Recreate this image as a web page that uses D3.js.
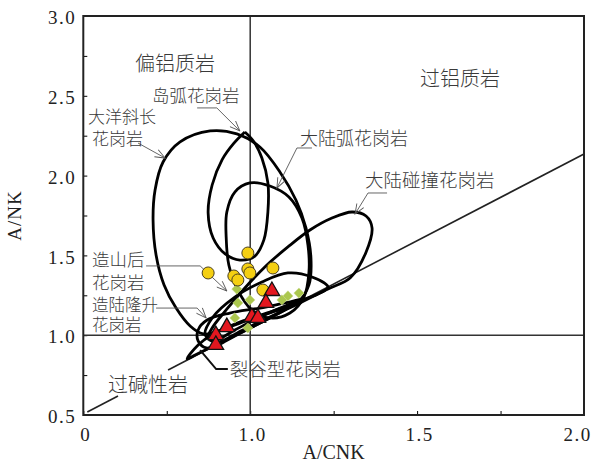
<!DOCTYPE html>
<html>
<head>
<meta charset="utf-8">
<script src="https://cdn.jsdelivr.net/npm/d3@7"></script>
<style>
  body { margin: 0; background: #fff; }
  svg { display: block; }
  .cjk { font-family: "Noto Sans CJK SC", sans-serif; font-weight: 300; fill: #3a3a3a; }
  .num { font-family: "Liberation Serif", "Times New Roman", serif; }
</style>
</head>
<body>
<script>
// size of picture
var svgWidth = 592
var svgHeight = 463

// axis domains and ticks
var xDomain = [0.5, 2.0]
var yDomain = [0.5, 3.0]
var xTickValues = [0.5, 1.0, 1.5, 2.0]
var xTickLabels = ["0", "1.0", "1.5", "2.0"]
var yTickValues = [0.5, 1.0, 1.5, 2.0, 2.5, 3.0]
var yTickLabels = ["0.5", "1.0", "1.5", "2.0", "2.5", "3.0"]
var minorStep = 0.25

// boundary line between metaluminous and peralkaline (broken by label)
var boundaryA = [[0.512, 0.519], [0.604, 0.619]]
var boundaryB = [[0.754, 0.782], [2.0, 2.135]]

// tectonic fields, [A/CNK, A/NK]
var fieldOP = [[0.880, 2.280], [0.960, 2.261], [1.029, 2.179], [1.089, 2.023], [1.137, 1.847], [1.167, 1.672],
    [1.182, 1.484], [1.176, 1.315], [1.143, 1.208], [1.059, 1.139], [0.969, 1.076], [0.895, 1.020],
    [0.859, 1.008], [0.820, 1.058], [0.778, 1.170], [0.742, 1.315], [0.718, 1.503], [0.709, 1.722],
    [0.715, 1.910], [0.739, 2.085], [0.790, 2.211]]
// island arc field starts and ends at its tip
var fieldIAG = [[0.984, 2.273], [0.950, 2.200], [0.916, 2.100], [0.886, 1.941], [0.874, 1.766], [0.889, 1.609],
    [0.925, 1.509], [0.969, 1.471], [1.014, 1.496], [1.041, 1.597], [1.053, 1.772], [1.053, 1.954],
    [1.035, 2.110], [1.010, 2.215], [0.984, 2.273]]
var fieldCAG = [[0.999, 1.954], [1.059, 1.935], [1.116, 1.866], [1.155, 1.734], [1.173, 1.565], [1.176, 1.396],
    [1.161, 1.239], [1.119, 1.139], [1.059, 1.108], [1.005, 1.158], [0.963, 1.283], [0.936, 1.440],
    [0.928, 1.615], [0.930, 1.772], [0.954, 1.897]]
var fieldCCG = [[1.365, 1.672], [1.347, 1.747], [1.305, 1.772], [1.245, 1.734], [1.179, 1.659], [1.113, 1.553],
    [1.047, 1.434], [0.984, 1.296], [0.928, 1.158], [0.886, 1.045], [0.874, 0.982], [0.901, 0.955],
    [0.975, 1.030], [1.065, 1.120], [1.149, 1.202], [1.233, 1.290], [1.300, 1.360], [1.347, 1.520]]
var fieldPOG = [[0.865, 1.001], [0.886, 1.108], [0.954, 1.239], [1.035, 1.333], [1.113, 1.390], [1.185, 1.365],
    [1.233, 1.302], [1.203, 1.258], [1.119, 1.195], [1.035, 1.120], [0.954, 1.033], [0.895, 0.970]]
var fieldCEUG = [[1.164, 1.227], [1.104, 1.202], [1.029, 1.170], [0.939, 1.139], [0.871, 1.095], [0.844, 1.033],
    [0.844, 0.964], [0.868, 0.920], [0.904, 0.939], [0.954, 0.995], [1.029, 1.076], [1.104, 1.158]]
var fieldRRG = [[0.811, 0.851], [0.844, 0.939], [0.889, 1.008], [0.969, 1.083], [1.059, 1.145], [1.119, 1.183],
    [1.059, 1.108], [0.969, 1.014], [0.889, 0.932], [0.835, 0.876]]

// samples
var circleA = [0.993, 0.874, 0.951, 0.963, 0.993, 0.999, 1.068, 1.038]
var circleB = [1.515, 1.390, 1.371, 1.346, 1.415, 1.390, 1.421, 1.283]
var diamondA = [0.960, 0.963, 0.999, 0.954, 0.993, 1.095, 1.113, 1.146]
var diamondB = [1.289, 1.202, 1.221, 1.108, 1.045, 1.221, 1.246, 1.264]
var triangleA = [1.065, 1.047, 1.005, 1.023, 0.930, 0.897, 0.897]
var triangleB = [1.277, 1.202, 1.114, 1.108, 1.051, 1.001, 0.939]

// labels: one entry per line; lines with the same group form one text
var labelText = ["偏铝质岩", "过铝质岩", "岛弧花岗岩", "大洋斜长", "花岗岩", "大陆弧花岗岩", "大陆碰撞花岗岩",
    "造山后", "花岗岩", "造陆隆升", "花岗岩", "裂谷型花岗岩", "过碱性岩"]
var labelGroup = [0, 1, 2, 3, 3, 4, 5, 6, 6, 7, 7, 8, 9]
var labelA = [0.655, 1.509, 0.706, 0.514, 0.526, 1.149, 1.344, 0.526, 0.526, 0.526, 0.526, 0.939, 0.574]
var labelB = [2.712, 2.618, 2.511, 2.380, 2.242, 2.242, 1.979, 1.484, 1.340, 1.195, 1.070, 0.794, 0.700]
var groupSize = [20, 20, 17.5, 17, 18, 18.5, 17.5, 16.5, 18.5, 20]

// pointer lines to fields
var pointers = [
    [[0.664, 2.204], [0.745, 2.110]],
    [[0.841, 2.424], [0.900, 2.424], [0.969, 2.280]],
    [[1.185, 2.173], [1.140, 2.173], [1.080, 1.922]],
    [[1.410, 1.891], [1.353, 1.891], [1.314, 1.759]],
    [[0.688, 1.434], [0.850, 1.434], [0.930, 1.277]],
    [[0.718, 1.170], [0.841, 1.170], [0.868, 1.108]]
]
var rrgPointer = [[0.933, 0.788], [0.898, 0.788], [0.850, 0.907]]

var x = d3.scaleLinear().domain(xDomain).range([83.3, 584])
var y = d3.scaleLinear().domain(yDomain).range([415, 16])

var svg = d3.select("body").append("svg")
    .attr("width", svgWidth)
    .attr("height", svgHeight)

svg.append("rect")
    .attr("width", svgWidth)
    .attr("height", svgHeight)
    .attr("fill", "white")

// arrow head
svg.append("defs").append("marker")
    .attr("id", "vhead")
    .attr("viewBox", "-11 -6 13 12")
    .attr("markerWidth", 13)
    .attr("markerHeight", 12)
    .attr("markerUnits", "userSpaceOnUse")
    .attr("orient", "auto")
    .append("path")
    .attr("d", "M-10,-4L0,0L-10,4")
    .attr("fill", "none")
    .attr("stroke", "#555")
    .attr("stroke-width", 0.9)

// axes with inward ticks
var minorX = d3.range(xDomain[0], xDomain[1] + 0.01, minorStep)
var minorY = d3.range(yDomain[0], yDomain[1] + 0.01, minorStep)

var xAxis = svg.append("g")
    .attr("class", "num")
    .attr("transform", "translate(0," + y(yDomain[0]) + ")")
    .call(d3.axisBottom(x)
        .tickValues(minorX)
        .tickSizeInner(-4)
        .tickSizeOuter(0)
        .tickPadding(13)
        .tickFormat(function(d) {
            var i = xTickValues.indexOf(d)
            return i >= 0 ? xTickLabels[i] : ""
        }))
xAxis.select(".domain").remove()
xAxis.selectAll("text")
    .style("font-size", "19px")
    .style("letter-spacing", "1.5px")
    .attr("fill", "#222")
    .attr("dx", function(d) { return d == 2.0 ? "-7" : "2" })

var yAxis = svg.append("g")
    .attr("class", "num")
    .attr("transform", "translate(" + x(xDomain[0]) + ",0)")
    .call(d3.axisLeft(y)
        .tickValues(minorY)
        .tickSizeInner(-4)
        .tickSizeOuter(0)
        .tickPadding(7)
        .tickFormat(function(d) {
            var i = yTickValues.indexOf(d)
            return i >= 0 ? yTickLabels[i] : ""
        }))
yAxis.select(".domain").remove()
yAxis.selectAll("text")
    .style("font-size", "19px")
    .style("letter-spacing", "1.5px")
    .attr("fill", "#222")
    .attr("dy", "0.4em")

// axis titles
svg.append("text")
    .attr("class", "num")
    .attr("x", (x(xDomain[0]) + x(xDomain[1])) / 2)
    .attr("y", 459)
    .attr("text-anchor", "middle")
    .style("font-size", "20px")
    .attr("fill", "#222")
    .text("A/CNK")

svg.append("text")
    .attr("class", "num")
    .attr("transform", "translate(21," + (y(yDomain[0]) + y(yDomain[1])) / 2 + ") rotate(-90)")
    .attr("text-anchor", "middle")
    .style("font-size", "19px")
    .style("letter-spacing", "1px")
    .attr("fill", "#222")
    .text("A/NK")

// divide lines
svg.append("line")
    .attr("x1", x(1.0)).attr("x2", x(1.0))
    .attr("y1", y(yDomain[0])).attr("y2", y(yDomain[1]))
    .attr("stroke", "#333").attr("stroke-width", 1.5)
svg.append("line")
    .attr("x1", x(xDomain[0])).attr("x2", x(xDomain[1]))
    .attr("y1", y(1.0)).attr("y2", y(1.0))
    .attr("stroke", "#333").attr("stroke-width", 1.5)

var straight = d3.line()
    .x(function(d) { return x(d[0]) })
    .y(function(d) { return y(d[1]) })

svg.selectAll(".boundary")
    .data([boundaryA, boundaryB])
    .enter().append("path")
    .attr("class", "boundary")
    .attr("d", straight)
    .attr("fill", "none")
    .attr("stroke", "#222")
    .attr("stroke-width", 1.6)

// field outlines
var loop = d3.line()
    .x(function(d) { return x(d[0]) })
    .y(function(d) { return y(d[1]) })
    .curve(d3.curveCatmullRomClosed.alpha(0.5))

var cusp = d3.line()
    .x(function(d) { return x(d[0]) })
    .y(function(d) { return y(d[1]) })
    .curve(d3.curveCatmullRom.alpha(0.5))

svg.selectAll(".field")
    .data([fieldOP, fieldCAG, fieldCCG, fieldPOG, fieldCEUG, fieldRRG])
    .enter().append("path")
    .attr("class", "field")
    .attr("d", loop)
    .attr("fill", "none")
    .attr("stroke", "black")
    .attr("stroke-width", 2.8)

svg.append("path")
    .attr("d", cusp(fieldIAG))
    .attr("fill", "none")
    .attr("stroke", "black")
    .attr("stroke-width", 2.8)
    .attr("stroke-linejoin", "miter")

// pointers
svg.selectAll(".pointer")
    .data(pointers)
    .enter().append("path")
    .attr("class", "pointer")
    .attr("d", straight)
    .attr("fill", "none")
    .attr("stroke", "#555")
    .attr("stroke-width", 0.9)
    .attr("marker-end", "url(#vhead)")

svg.append("path")
    .attr("d", straight(rrgPointer))
    .attr("fill", "none")
    .attr("stroke", "#111")
    .attr("stroke-width", 2)

// samples
svg.selectAll(".diamond")
    .data(diamondA)
    .enter().append("path")
    .attr("class", "diamond")
    .attr("d", d3.symbol().type(d3.symbolSquare).size(52))
    .attr("transform", function(d, i) { return "translate(" + x(d) + "," + y(diamondB[i]) + ") rotate(45)" })
    .attr("fill", "#abc74e")
    .attr("stroke", "#c7d98a")
    .attr("stroke-width", 0.5)

svg.selectAll(".circle")
    .data(circleA)
    .enter().append("circle")
    .attr("class", "circle")
    .attr("cx", function(d) { return x(d) })
    .attr("cy", function(d, i) { return y(circleB[i]) })
    .attr("r", 6)
    .attr("fill", "#f4cf12")
    .attr("stroke", "#4a4020")
    .attr("stroke-width", 1)

svg.selectAll(".triangle")
    .data(triangleA)
    .enter().append("path")
    .attr("class", "triangle")
    .attr("d", d3.symbol().type(d3.symbolTriangle).size(105))
    .attr("transform", function(d, i) { return "translate(" + x(d) + "," + y(triangleB[i]) + ")" })
    .attr("fill", "#e3171f")
    .attr("stroke", "#111")
    .attr("stroke-width", 1.3)

// labels, one text per group, one tspan per line
var groups = d3.groups(d3.range(labelText.length), function(i) { return labelGroup[i] })
svg.selectAll(".label")
    .data(groups)
    .enter().append("text")
    .attr("class", "cjk label")
    .attr("dominant-baseline", "central")
    .style("font-size", function(g) { return groupSize[g[0]] + "px" })
    .each(function(g) {
        var t = d3.select(this)
        g[1].forEach(function(i) {
            t.append("tspan")
                .attr("x", x(labelA[i]))
                .attr("y", y(labelB[i]))
                .text(labelText[i])
        })
    })

// frame
svg.append("rect")
    .attr("x", x(xDomain[0]))
    .attr("y", y(yDomain[1]))
    .attr("width", x(xDomain[1]) - x(xDomain[0]))
    .attr("height", y(yDomain[0]) - y(yDomain[1]))
    .attr("fill", "none")
    .attr("stroke", "#222")
    .attr("stroke-width", 2)
</script>
</body>
</html>
